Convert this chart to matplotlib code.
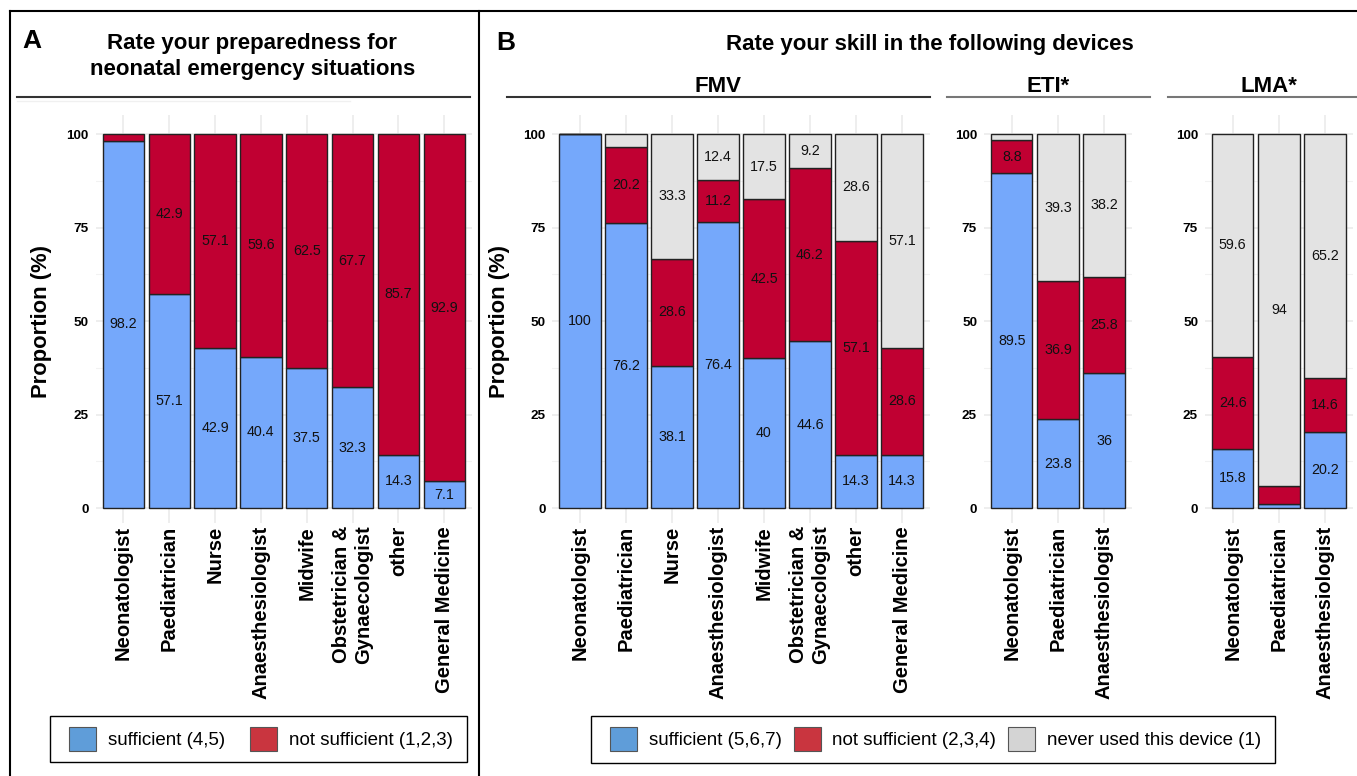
import numpy as np
import matplotlib
matplotlib.use("Agg")
import matplotlib.pyplot as plt
from matplotlib.patches import Patch, Rectangle
from matplotlib.lines import Line2D

plt.rcParams['font.family'] = ['Liberation Sans', 'DejaVu Sans']

### Data (percent of respondents) ###
jobs_all = ["Neonatologist", "Paediatrician", "Nurse", "Anaesthesiologist", "Midwife",
            "Obstetrician &\nGynaecologist", "other", "General Medicine"]
jobs_short = ["Neonatologist", "Paediatrician", "Anaesthesiologist"]

# panel A: preparedness
prep_sufficient = [98.2, 57.1, 42.9, 40.4, 37.5, 32.3, 14.3, 7.1]
prep_not_sufficient = [1.8, 42.9, 57.1, 59.6, 62.5, 67.7, 85.7, 92.9]

# panel B: device skill
fmv_sufficient = [100, 76.2, 38.1, 76.4, 40, 44.6, 14.3, 14.3]
fmv_not_sufficient = [0, 20.2, 28.6, 11.2, 42.5, 46.2, 57.1, 28.6]
fmv_never = [0, 3.6, 33.3, 12.4, 17.5, 9.2, 28.6, 57.1]

eti_sufficient = [89.5, 23.8, 36]
eti_not_sufficient = [8.8, 36.9, 25.8]
eti_never = [1.7, 39.3, 38.2]

lma_sufficient = [15.8, 1.2, 20.2]
lma_not_sufficient = [24.6, 4.8, 14.6]
lma_never = [59.6, 94, 65.2]

legend_a = ["sufficient (4,5)", "not sufficient (1,2,3)"]
legend_b = ["sufficient (5,6,7)", "not sufficient (2,3,4)", "never used this device (1)"]

BLUE, RED, GREY = "#75a8fb", "#c00032", "#e3e3e3"
LEG_COLORS = ["#5f9dd9", "#c9353f", "#d4d4d4"]

W, H = 1357, 776
fig = plt.figure(figsize=(W / 100, H / 100), dpi=100)


def px(x, y):
    '''pixel position -> figure fraction'''
    return x / W, 1 - y / H


def make_axes(x0, x1, ytop=115.3, ybot=523.0):
    return fig.add_axes([x0 / W, 1 - ybot / H, (x1 - x0) / W, (ybot - ytop) / H])


def hline(x0, x1, y, color="black", lw=1.5):
    fig.add_artist(Line2D([x0 / W, x1 / W], [1 - y / H, 1 - y / H], color=color, lw=lw,
                          transform=fig.transFigure))


def vline(x, y0, y1, color="black", lw=1.5):
    fig.add_artist(Line2D([x / W, x / W], [1 - y0 / H, 1 - y1 / H], color=color, lw=lw,
                          transform=fig.transFigure))


def box(x0, x1, y0, y1):
    fig.add_artist(Rectangle(px(x0, y1), (x1 - x0) / W, (y1 - y0) / H, fill=False,
                             edgecolor="black", lw=1.0, transform=fig.transFigure))


def stacked_plot(ax, labels, series, colors):
    '''stacked 100% bars with the value written in the middle of each segment'''
    x = np.arange(1, len(labels) + 1)
    bottom = np.zeros(len(labels))
    for vals, col in zip(series, colors):
        vals = np.array(vals, dtype=float)
        ax.bar(x, vals, 0.9, bottom=bottom, color=col, edgecolor="#222222", lw=1.0, zorder=2)
        for xi, b, v in zip(x, bottom, vals):
            if v >= 5:
                ax.text(xi, b + v / 2, "%g" % v, ha="center", va="center", fontsize=10.3,
                        color="#111111", zorder=3)
        bottom += vals

    ax.set_xlim(0.4, len(labels) + 0.6)
    ax.set_ylim(-4, 105)
    ax.set_xticks(x)
    ax.set_xticklabels(labels, rotation=90, fontsize=14.5, fontweight="bold",
                       va="top", ha="center", multialignment="right")
    ax.set_yticks([0, 25, 50, 75, 100])
    ax.set_yticks([12.5, 37.5, 62.5, 87.5], minor=True)
    ax.set_yticklabels(["0", "25", "50", "75", "100"], fontsize=9.7, fontweight="bold")
    ax.tick_params(axis="both", which="both", length=0)
    ax.tick_params(axis="y", pad=5)
    ax.tick_params(axis="x", pad=2)
    ax.grid(True, which="major", color="#ebebeb", lw=1.2)
    ax.grid(True, which="minor", axis="y", color="#f2f2f2", lw=0.8)
    ax.set_axisbelow(True)
    for s in ax.spines.values():
        s.set_visible(False)


### Panel A ###
ax_a = make_axes(95.8, 471.8)
stacked_plot(ax_a, jobs_all, [prep_sufficient, prep_not_sufficient], [BLUE, RED])

### Panel B ###
ax_fmv = make_axes(552.4, 929.6)
stacked_plot(ax_fmv, jobs_all, [fmv_sufficient, fmv_not_sufficient, fmv_never], [BLUE, RED, GREY])
ax_eti = make_axes(984.0, 1131.7)
stacked_plot(ax_eti, jobs_short, [eti_sufficient, eti_not_sufficient, eti_never], [BLUE, RED, GREY])
ax_lma = make_axes(1205.0, 1352.7)
stacked_plot(ax_lma, jobs_short, [lma_sufficient, lma_not_sufficient, lma_never], [BLUE, RED, GREY])

### Frame lines ###
hline(10, W, 11)
vline(10, 11, H)
vline(478.5, 11, H)

### Titles ###
fig.text(*px(22, 48.5), "A", fontsize=19, fontweight="bold", ha="left", va="baseline")
fig.text(*px(252, 48.5), "Rate your preparedness for", fontsize=16, fontweight="bold",
         ha="center", va="baseline")
fig.text(*px(253, 75.5), "neonatal emergency situations", fontsize=16, fontweight="bold",
         ha="center", va="baseline")
hline(17, 470, 97, color="#333333", lw=1.5)
hline(17, 350, 100.5, color="#f0f0f0", lw=1.0)

fig.text(*px(496, 50), "B", fontsize=19, fontweight="bold", ha="left", va="baseline")
fig.text(*px(929.5, 50), "Rate your skill in the following devices", fontsize=16,
         fontweight="bold", ha="center", va="baseline")

for name, xc, x0, x1, col in [("FMV", 718, 507, 930, "#333333"),
                              ("ETI*", 1048, 946.5, 1150, "#777777"),
                              ("LMA*", 1269, 1167.5, W, "#777777")]:
    fig.text(*px(xc, 91.7), name, fontsize=16, fontweight="bold", ha="center", va="baseline")
    hline(x0, x1, 96.8, color=col, lw=1.5)

fig.text(*px(42, 321), "Proportion (%)", fontsize=15.8, fontweight="bold", rotation=90,
         ha="center", va="center")
fig.text(*px(500, 321), "Proportion (%)", fontsize=15.8, fontweight="bold", rotation=90,
         ha="center", va="center")

### Legends (frame drawn separately) ###
handles_a = [Patch(facecolor=c, edgecolor="#555555", lw=0.8) for c in LEG_COLORS[:2]]
fig.legend(handles_a, legend_a, loc="center", bbox_to_anchor=px(261, 739), ncol=2,
           fontsize=13.5, frameon=False, handlelength=1.45, handleheight=1.6,
           handletextpad=0.65, columnspacing=1.3, borderpad=0.3)
box(50, 467, 716, 762)

handles_b = [Patch(facecolor=c, edgecolor="#555555", lw=0.8) for c in LEG_COLORS]
fig.legend(handles_b, legend_b, loc="center", bbox_to_anchor=px(935.5, 739), ncol=3,
           fontsize=13.5, frameon=False, handlelength=1.45, handleheight=1.6,
           handletextpad=0.6, columnspacing=0.65, borderpad=0.3)
box(591, 1275, 716, 763)

fig.savefig("out.png", dpi=100)
